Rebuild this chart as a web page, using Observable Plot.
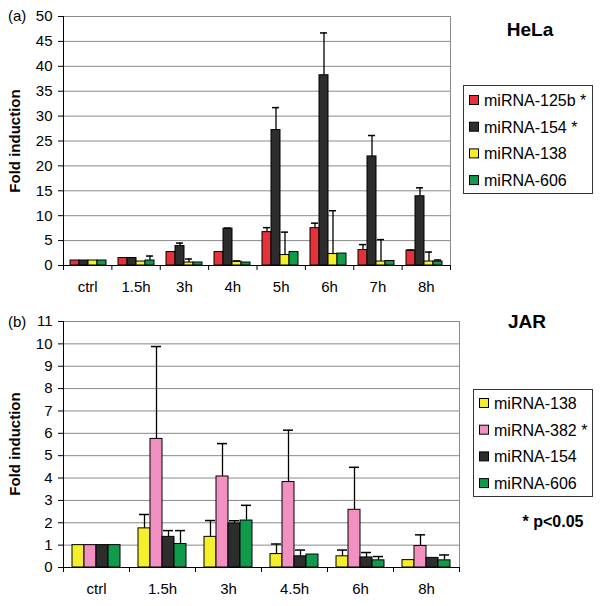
<!DOCTYPE html>
<html><head><meta charset="utf-8">
<script src="https://cdn.jsdelivr.net/npm/d3@7"></script>
<script src="https://cdn.jsdelivr.net/npm/@observablehq/plot@0.6"></script>
<style>
html,body{margin:0;padding:0;background:#fff;}
#root{position:relative;width:602px;height:606px;overflow:hidden;background:#fff;}
#root svg{position:absolute;left:0;}
</style></head><body><div id="root"></div>
<script>
// ---------- Panel (a) HeLa ----------
const helaCats = ["ctrl", "1.5h", "3h", "4h", "5h", "6h", "7h", "8h"];
const helaSeries = ["miRNA-125b", "miRNA-154", "miRNA-138", "miRNA-606"];
const helaLegend = ["miRNA-125b *", "miRNA-154 *", "miRNA-138", "miRNA-606"];
const helaColors = ["#e5323a", "#2d2d2d", "#f4ee2b", "#109a4b"];
const hela125b = [1, 1.5, 2.7, 2.7, 6.7, 7.5, 3.1, 3.0];
const hela125bErr = [0, 0, 0, 0, 0.9, 1.0, 1.1, 0.1];
const hela154 = [1, 1.5, 3.9, 7.4, 27.2, 38.2, 21.9, 13.9];
const hela154Err = [0, 0, 0.6, 0.1, 4.5, 8.5, 4.2, 1.7];
const hela138 = [1, 0.8, 0.6, 0.8, 2.1, 2.3, 0.8, 0.8];
const hela138Err = [0, 0, 0.7, 0.1, 4.6, 8.7, 4.4, 1.9];
const hela606 = [1, 1.0, 0.6, 0.6, 2.7, 2.4, 0.9, 0.8];
const hela606Err = [0, 0.9, 0, 0, 0, 0, 0, 0.3];
const helaYTicks = [0, 5, 10, 15, 20, 25, 30, 35, 40, 45, 50];

// ---------- Panel (b) JAR ----------
const jarCats = ["ctrl", "1.5h", "3h", "4.5h", "6h", "8h"];
const jarSeries = ["miRNA-138", "miRNA-382", "miRNA-154", "miRNA-606"];
const jarLegend = ["miRNA-138", "miRNA-382 *", "miRNA-154", "miRNA-606"];
const jarColors = ["#f4ee2b", "#f290c2", "#2d2d2d", "#109a4b"];
const jar138 = [1, 1.75, 1.37, 0.6, 0.5, 0.33];
const jar138Err = [0, 0.62, 0.73, 0.45, 0.28, 0];
const jar382 = [1, 5.75, 4.07, 3.82, 2.58, 0.96];
const jar382Err = [0, 4.13, 1.47, 2.32, 1.9, 0.5];
const jar154 = [1, 1.37, 1.97, 0.5, 0.45, 0.43];
const jar154Err = [0, 0.28, 0.12, 0.28, 0.22, 0];
const jar606 = [1, 1.05, 2.1, 0.58, 0.32, 0.32];
const jar606Err = [0, 0.6, 0.68, 0, 0.17, 0.24];
const jarYTicks = [0, 1, 2, 3, 4, 5, 6, 7, 8, 9, 10, 11];

const FONT = "'Liberation Sans', Arial, sans-serif";
const root = document.getElementById("root");

function panel(cfg) {
  const {top, height, mt, mb, ml, mr, cats, series, colors, values, errors, yTicks, padInner} = cfg;
  const yMax = yTicks[yTicks.length - 1];
  const rows = cats.flatMap((c, i) => series.map((s, j) => ({cat: c, series: s, value: values[j][i], err: errors[j][i]})));
  const style = {fontFamily: FONT, fontSize: "15px", color: "#000", background: "transparent", overflow: "visible"};
  const common = {width: 602, height, marginTop: mt, marginBottom: mb, marginLeft: ml, marginRight: mr, style};
  const n = cats.length;
  const bg = Plot.plot({
    ...common,
    x: {type: "linear", domain: [0, n]},
    y: {domain: [0, yMax]},
    marks: [
      Plot.gridY(yTicks, {stroke: "#8a8a8a", strokeOpacity: 1}),
      Plot.ruleX([n], {stroke: "#8a8a8a"}),
      Plot.ruleX([0], {stroke: "#000"}),
      Plot.ruleY([0], {stroke: "#000"}),
      Plot.axisY(yTicks, {tickSize: 5, tickPadding: 6, label: null, fontSize: 15}),
      Plot.axisX(d3.range(n + 1), {tickSize: 5, tickFormat: () => "", label: null}),
      Plot.axisX(cats.map((c, i) => i + 0.5), {tickSize: 0, tickPadding: 16, label: null, fontSize: 15,
        tickFormat: v => cats[Math.floor(v)]})
    ]
  });
  const bars = Plot.plot({
    ...common,
    facet: {data: rows, x: "cat"},
    fx: {domain: cats, paddingInner: padInner, paddingOuter: padInner / 2, axis: null, label: null},
    x: {domain: series, padding: 0, axis: null},
    y: {domain: [0, yMax], axis: null},
    color: {domain: series, range: colors},
    marks: [
      Plot.ruleX(rows, {filter: d => d.err > 0, x: "series", y1: "value", y2: d => d.value + d.err, stroke: "#000", strokeWidth: 1.3}),
      Plot.barY(rows, {x: "series", y: "value", fill: "series", stroke: "#000", strokeWidth: 1}),
      Plot.tickY(rows, {filter: d => d.err > 0, x: "series", y: d => d.value + d.err, stroke: "#000", strokeWidth: 1.5, insetLeft: 1, insetRight: 1})
    ]
  });
  bg.style.top = top + "px";
  bars.style.top = top + "px";
  root.appendChild(bg);
  root.appendChild(bars);
}

panel({top: 0, height: 300, mt: 16, mb: 35, ml: 63, mr: 152, cats: helaCats, series: helaSeries, colors: helaColors,
  values: [hela125b, hela154, hela138, hela606], errors: [hela125bErr, hela154Err, hela138Err, hela606Err],
  yTicks: helaYTicks, padInner: 0.24});
panel({top: 300, height: 306, mt: 21, mb: 39, ml: 63, mr: 143, cats: jarCats, series: jarSeries, colors: jarColors,
  values: [jar138, jar382, jar154, jar606], errors: [jar138Err, jar382Err, jar154Err, jar606Err],
  yTicks: jarYTicks, padInner: 0.27});

// ---------- Overlay: titles, labels, legends ----------
const ov = d3.select(root).append("svg").attr("width", 602).attr("height", 606)
  .style("top", "0px").style("font-family", FONT).attr("fill", "#000");

function txt(x, y, s, size, weight, anchor) {
  return ov.append("text").attr("x", x).attr("y", y).attr("font-size", size)
    .attr("font-weight", weight || "normal").attr("text-anchor", anchor || "start").text(s);
}
txt(8, 21, "(a)", 15);
txt(8, 327, "(b)", 15);
txt(530, 36, "HeLa", 19, "bold", "middle");
txt(527, 328, "JAR", 19, "bold", "middle");
txt(553, 527, "* p<0.05", 16, "bold", "middle");
ov.append("text").attr("transform", "translate(20,141) rotate(-90)").attr("text-anchor", "middle")
  .attr("font-size", 15).attr("font-weight", "bold").text("Fold induction");
ov.append("text").attr("transform", "translate(20,444) rotate(-90)").attr("text-anchor", "middle")
  .attr("font-size", 15).attr("font-weight", "bold").text("Fold induction");

function legend(x, y, w, h, y0, labels, colors) {
  ov.append("rect").attr("x", x + 0.5).attr("y", y + 0.5).attr("width", w).attr("height", h)
    .attr("fill", "#fff").attr("stroke", "#333");
  labels.forEach((l, i) => {
    const yc = y0 + i * 26.7;
    ov.append("rect").attr("x", x + 6.5).attr("y", yc - 4.5).attr("width", 9).attr("height", 9)
      .attr("fill", colors[i]).attr("stroke", "#000");
    txt(x + 21, yc + 6, l, 16);
  });
}
legend(463, 85, 129, 108, 100, helaLegend, helaColors);
legend(473, 389, 119, 107, 403, jarLegend, jarColors);
</script></body></html>
